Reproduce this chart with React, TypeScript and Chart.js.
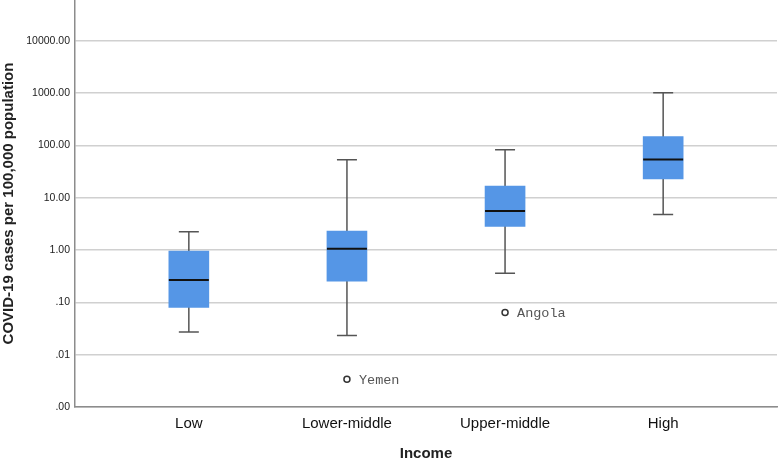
import React, { useEffect, useRef } from 'react';
import { Chart, registerables } from 'chart.js';

Chart.register(...registerables);

const categories = ['Low', 'Lower-middle', 'Upper-middle', 'High'];
const whiskerLow = [0.027, 0.0232, 0.358, 4.75];
const q1Values = [0.08, 0.255, 2.84, 22.9];
const medianValues = [0.266, 1.06, 5.59, 53.8];
const q3Values = [0.957, 2.31, 16.6, 148];
const whiskerHigh = [2.24, 53, 82.4, 1018];
const outlierCategory = [1, 2];
const outlierValues = [0.0034, 0.064];
const outlierNames = ['Yemen', 'Angola'];
const yTickValues = [0.001, 0.01, 0.1, 1, 10, 100, 1000, 10000];

const boxPlugin = {
  id: 'boxParts',
  beforeDatasetsDraw(chart: any) {
    const { ctx, scales } = chart;
    const x = scales.x;
    const y = scales.y;
    ctx.save();
    ctx.strokeStyle = '#555555';
    ctx.lineWidth = 1.5;
    categories.forEach((_, i) => {
      const cx = x.getPixelForValue(i);
      const yl = y.getPixelForValue(whiskerLow[i]);
      const yh = y.getPixelForValue(whiskerHigh[i]);
      ctx.beginPath();
      ctx.moveTo(cx, yl);
      ctx.lineTo(cx, yh);
      ctx.moveTo(cx - 10, yl);
      ctx.lineTo(cx + 10, yl);
      ctx.moveTo(cx - 10, yh);
      ctx.lineTo(cx + 10, yh);
      ctx.stroke();
    });
    ctx.restore();
  },
  afterDatasetsDraw(chart: any) {
    const { ctx, scales } = chart;
    const x = scales.x;
    const y = scales.y;
    ctx.save();
    ctx.strokeStyle = '#111111';
    ctx.lineWidth = 2;
    categories.forEach((_, i) => {
      const cx = x.getPixelForValue(i);
      const ym = y.getPixelForValue(medianValues[i]);
      ctx.beginPath();
      ctx.moveTo(cx - 20, ym);
      ctx.lineTo(cx + 20, ym);
      ctx.stroke();
    });
    ctx.fillStyle = '#555555';
    ctx.font = '13.5px "Liberation Mono", "DejaVu Sans Mono", monospace';
    ctx.textAlign = 'left';
    ctx.textBaseline = 'middle';
    outlierNames.forEach((name, i) => {
      const px = x.getPixelForValue(outlierCategory[i]);
      const py = y.getPixelForValue(outlierValues[i]);
      ctx.fillText(name, px + 12, py + 1);
    });
    ctx.restore();
  },
};

export default function App() {
  const canvasRef = useRef<HTMLCanvasElement | null>(null);

  useEffect(() => {
    if (!canvasRef.current) return;
    Chart.defaults.font.family = '"Liberation Sans", Arial, sans-serif';
    const chart = new Chart(canvasRef.current, {
      type: 'bar',
      data: {
        datasets: [
          {
            type: 'bar',
            data: categories.map((_, i) => ({ x: i, y: [q1Values[i], q3Values[i]] })) as any,
            backgroundColor: '#5596e6',
            borderWidth: 0,
            barThickness: 40,
            order: 2,
          } as any,
          {
            type: 'scatter',
            data: outlierCategory.map((c, i) => ({ x: c, y: outlierValues[i] })),
            pointRadius: 3,
            pointBorderWidth: 1.5,
            pointBorderColor: '#333333',
            pointBackgroundColor: '#ffffff',
            order: 1,
          } as any,
        ],
      },
      options: {
        animation: false,
        responsive: false,
        devicePixelRatio: 1,
        layout: { autoPadding: false, padding: { left: 0, right: 1, top: 0, bottom: 0 } },
        plugins: {
          legend: { display: false },
          tooltip: { enabled: false },
        },
        scales: {
          x: {
            type: 'linear',
            min: -0.72,
            max: 3.72,
            offset: false,
            bounds: 'data',
            grid: { display: false, offset: false },
            border: { display: true, color: '#8c8c8c', width: 1.5 },
            afterBuildTicks: (s: any) => {
              s.ticks = categories.map((_, i) => ({ value: i }));
            },
            ticks: {
              autoSkip: false,
              maxRotation: 0,
              padding: 0,
              color: '#111111',
              font: { size: 15 },
              callback: (v: any) => categories[Number(v)] ?? '',
            },
            title: {
              display: true,
              text: 'Income',
              color: '#222222',
              font: { size: 15, weight: 'bold', lineHeight: 1 },
              padding: { top: 0, bottom: -2.5 },
            },
            afterFit: (s: any) => {
              s.height = 52;
              s.paddingLeft = 0;
              s.paddingRight = 0;
            },
          } as any,
          y: {
            type: 'logarithmic',
            min: 0.001,
            max: 60000,
            afterBuildTicks: (s: any) => {
              s.ticks = yTickValues.map((v) => ({ value: v }));
            },
            grid: { color: '#d0d0d0', lineWidth: 1.5, drawTicks: false },
            border: { display: true, color: '#8c8c8c', width: 1.5 },
            ticks: {
              padding: 5,
              color: '#222222',
              font: { size: 10.5 },
              callback: (v: any) => {
                const s = Number(v).toFixed(2);
                return s.startsWith('0.') ? s.slice(1) : s;
              },
            },
            title: {
              display: true,
              text: 'COVID-19 cases per 100,000 population',
              color: '#222222',
              font: { size: 15, weight: 'bold' },
              padding: 0,
            },
            afterFit: (s: any) => {
              s.width = 75;
              s.paddingTop = 0;
              s.paddingBottom = 0;
            },
          } as any,
        },
      },
      plugins: [boxPlugin],
    });
    return () => chart.destroy();
  }, []);

  return (
    <div style={{ position: 'absolute', left: 0, top: 0, width: 778, height: 459, background: '#ffffff' }}>
      <canvas ref={canvasRef} width={778} height={459} style={{ display: 'block' }} />
    </div>
  );
}
